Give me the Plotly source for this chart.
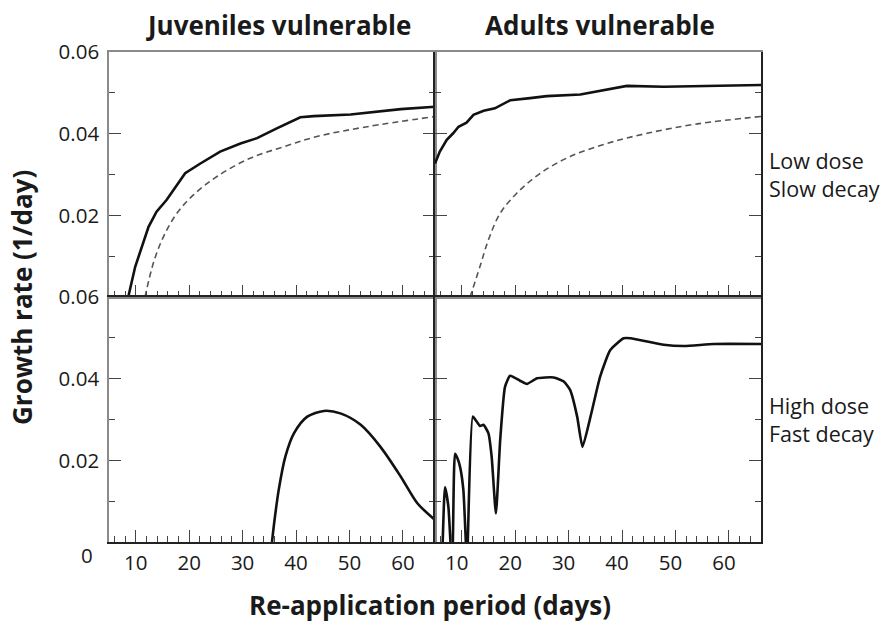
import plotly.graph_objects as go
from plotly.subplots import make_subplots

# Growth rate (1/day) against re-application period (days)
# Top row: low dose / slow decay; bottom row: high dose / fast decay
# Left column: juveniles vulnerable; right column: adults vulnerable

juv_low_period = [8.6, 9.9, 12.4, 13.9, 15.8, 17.7, 19.25, 22.1, 25.8, 29.6, 32.7,
                  36.4, 40.8, 43.3, 50.2, 59.6, 66.0]
juv_low_rate = [0.0, 0.0074, 0.0172, 0.0209, 0.0238, 0.0274, 0.0303, 0.0327, 0.0356,
                0.0376, 0.0389, 0.0413, 0.0440, 0.0443, 0.0447, 0.0460, 0.0466]

juv_ref_period = [11.75, 13.3, 15.2, 17.7, 20.8, 25.2, 31.4, 37.7, 43.9, 53.3, 66.0]
juv_ref_rate = [0.0, 0.0083, 0.0148, 0.0205, 0.0250, 0.0295, 0.0340, 0.0368, 0.0393,
                0.0417, 0.0442]

adu_low_period = [5.0, 5.9, 7.2, 8.4, 9.4, 10.9, 12.2, 14.1, 16.2, 19.1, 22.8, 25.9,
                  32.2, 36.6, 40.9, 47.8, 57.2, 66.0]
adu_low_rate = [0.0327, 0.0356, 0.0385, 0.0401, 0.0417, 0.0427, 0.0446, 0.0456, 0.0462,
                0.0482, 0.0487, 0.0492, 0.0496, 0.0507, 0.0517, 0.0515, 0.0517, 0.0519]

adu_ref_period = [11.56, 13.4, 15.0, 17.2, 20.3, 24.7, 30.3, 37.2, 44.7, 54.1, 66.0]
adu_ref_rate = [0.0, 0.0074, 0.0140, 0.0205, 0.0254, 0.0303, 0.0344, 0.0376, 0.0401,
                0.0424, 0.0442]

juv_high_period = [35.5, 35.9, 36.75, 38.0, 39.6, 42.1, 45.2, 48.3, 52.1, 55.8, 59.6,
                   62.7, 66.0]
juv_high_rate = [0.0, 0.0046, 0.0127, 0.0209, 0.0266, 0.0307, 0.0321, 0.0315, 0.0287,
                 0.0233, 0.0160, 0.0095, 0.0054]

adu_high_period = [6.4, 6.875, 7.5, 7.94, 8.1, 8.31, 8.75, 9.2, 9.69, 10.31, 10.81, 10.95,
                   11.1, 12.07, 12.8, 13.44, 14.06, 15.0, 15.6, 16.4, 17.2, 18.1, 19.06,
                   20.9, 22.2, 24.1, 27.2, 29.1, 30.3, 31.6, 32.6, 34.1, 35.9, 37.8,
                   40.3, 41.6, 44.7, 47.8, 51.6, 57.2, 66.0]
adu_high_rate = [-0.002, 0.0134, 0.0087, -0.001, -0.003, -0.001, 0.0216, 0.0205, 0.0184,
                 0.0127, -0.001, -0.003, -0.001, 0.0307, 0.0295, 0.0284, 0.0287, 0.0266,
                 0.0209, 0.0070, 0.0250, 0.0380, 0.0407, 0.0395, 0.0387, 0.0401, 0.0403,
                 0.0393, 0.0372, 0.0307, 0.0233, 0.0307, 0.0405, 0.0470, 0.0499, 0.0499,
                 0.0491, 0.0483, 0.0480, 0.0485, 0.0485]

x_ticks = [10, 20, 30, 40, 50, 60]
y_ticks = [0.02, 0.04, 0.06]
y_tick_text = ["0.02", "0.04", "0.06"]

FONT = "Open Sans"
INK = "#1a1a1a"
SOLID = dict(color="#111111", width=2.6)
DASHED = dict(color="#555555", width=1.6, dash="6px,4px")
TICKFONT = dict(family=FONT, size=20.5, color=INK)
BOLD = dict(family=FONT, size=26, color=INK, weight=700)
SIDE = dict(family=FONT, size=21.5, color=INK)

fig = make_subplots(rows=2, cols=2, horizontal_spacing=0, vertical_spacing=0)

fig.add_trace(go.Scatter(x=juv_low_period, y=juv_low_rate, mode="lines", line=SOLID),
              row=1, col=1)
fig.add_trace(go.Scatter(x=juv_ref_period, y=juv_ref_rate, mode="lines",
                         line=dict(DASHED, shape="spline")), row=1, col=1)
fig.add_trace(go.Scatter(x=adu_low_period, y=adu_low_rate, mode="lines", line=SOLID),
              row=1, col=2)
fig.add_trace(go.Scatter(x=adu_ref_period, y=adu_ref_rate, mode="lines",
                         line=dict(DASHED, shape="spline")), row=1, col=2)
fig.add_trace(go.Scatter(x=juv_high_period, y=juv_high_rate, mode="lines",
                         line=dict(SOLID, shape="spline", smoothing=0.8)), row=2, col=1)
fig.add_trace(go.Scatter(x=adu_high_period, y=adu_high_rate, mode="lines",
                         line=dict(SOLID, shape="spline", smoothing=0.5)), row=2, col=2)

xaxis_common = dict(
    range=[5, 66], tickvals=x_ticks, ticks="inside", ticklen=12, tickwidth=1.2,
    tickcolor="#444", showline=True, linecolor="#222", linewidth=1.5, mirror=True,
    showgrid=False, zeroline=False,
    minor=dict(ticks="inside", ticklen=6, tickwidth=1.2, tickcolor="#444", dtick=2,
               tick0=0, showgrid=False),
    tickfont=TICKFONT,
)
yaxis_common = dict(
    range=[0, 0.06], tickvals=y_ticks, ticks="inside", ticklen=12, tickwidth=1.2,
    tickcolor="#444", showline=True, linecolor="#222", linewidth=1.5, mirror="ticks",
    showgrid=False, zeroline=False,
    minor=dict(ticks="inside", ticklen=6, tickwidth=1.2, tickcolor="#444", dtick=0.01,
               tick0=0, showgrid=False),
    tickfont=TICKFONT,
)

for r in (1, 2):
    for c in (1, 2):
        fig.update_xaxes(xaxis_common, row=r, col=c, showticklabels=(r == 2))
        fig.update_yaxes(yaxis_common, row=r, col=c, showticklabels=(c == 1))

fig.update_xaxes(ticklabelshift=-5, row=2, col=2)
fig.update_xaxes(ticklabelstandoff=2, row=2)
fig.update_yaxes(ticktext=y_tick_text, ticklabelstandoff=4, col=1)
fig.update_yaxes(linecolor="#8a8a8a", col=1)
fig.update_xaxes(linecolor="#8a8a8a", row=1)

annotations = [
    dict(text="Juveniles vulnerable", x=0.5, y=1, xref="x domain", yref="paper",
         yanchor="middle", yshift=27, xshift=6, showarrow=False, font=BOLD),
    dict(text="Adults vulnerable", x=0.5, y=1, xref="x2 domain", yref="paper",
         yanchor="middle", yshift=27, xshift=2, showarrow=False, font=BOLD),
    dict(text="Low dose<br>Slow decay", x=1, y=0.5, xref="x2 domain", yref="y2 domain",
         xanchor="left", yanchor="middle", xshift=6, align="left", showarrow=False,
         font=SIDE),
    dict(text="High dose<br>Fast decay", x=1, y=0.5, xref="x4 domain", yref="y4 domain",
         xanchor="left", yanchor="middle", xshift=6, align="left", showarrow=False,
         font=SIDE),
    dict(text="0", x=0, y=0, xref="x3 domain", yref="y3", xanchor="right",
         yanchor="middle", xshift=-14, yshift=-13, showarrow=False, font=TICKFONT),
    dict(text="Growth rate (1/day)", x=0, y=0.5, xref="paper", yref="paper",
         xanchor="center", yanchor="middle", xshift=-87, yshift=-1, textangle=-90,
         showarrow=False, font=BOLD),
    dict(text="Re-application period (days)", x=0.5, y=0, xref="paper",
         yref="paper", xanchor="center", yanchor="middle", yshift=-63, xshift=-5,
         showarrow=False, font=BOLD),
]

fig.update_layout(
    width=890, height=622, autosize=False,
    margin=dict(l=109, r=129, t=52, b=80),
    paper_bgcolor="white", plot_bgcolor="white",
    showlegend=False, annotations=annotations,
)

fig.write_html("out.html")
